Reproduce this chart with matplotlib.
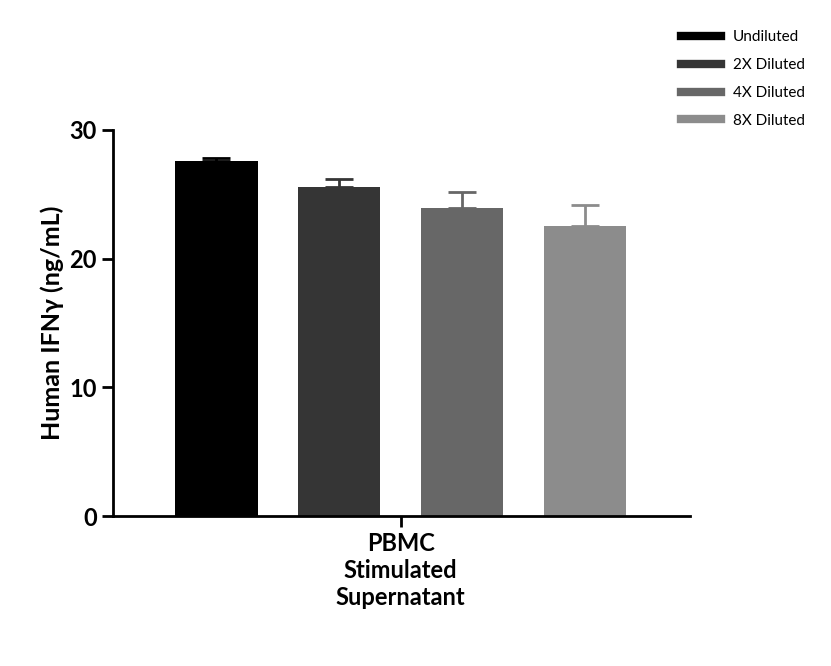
import numpy as np
import matplotlib; matplotlib.use('Agg')
import matplotlib.pyplot as plt
from matplotlib.lines import Line2D

labels = ['Undiluted', '2X Diluted', '4X Diluted', '8X Diluted']
values = [27.6, 25.6, 23.9, 22.5]
errors = [0.2, 0.6, 1.3, 1.7]
colors = ['#000000', '#353535', '#676767', '#8c8c8c']

plt.rcParams['font.family'] = ['Lato', 'DejaVu Sans']
fig = plt.figure(figsize=(8.31, 6.66), dpi=100)
ax = fig.add_axes([0.136, 0.225, 0.694, 0.58])

x = np.arange(len(values))
for i in x:
    ax.bar(i, values[i], width=0.67, color=colors[i], zorder=2)
    ax.errorbar(i, values[i], yerr=[[0], [errors[i]]], fmt='none', ecolor=colors[i],
                elinewidth=2, capsize=10, capthick=2, zorder=1)

ax.set_xlim(-0.84, 3.85)
ax.set_ylim(0, 30)
ax.set_yticks([0, 10, 20, 30])
ax.set_xticks([1.5])
ax.set_xticklabels(['PBMC\nStimulated\nSupernatant'], fontsize=17, fontweight='bold')
ax.tick_params(axis='y', labelsize=17, width=2, length=8)
ax.tick_params(axis='x', width=2, length=8)
for lab in ax.get_yticklabels():
    lab.set_fontweight('bold')
ax.set_ylabel('Human IFNγ (ng/mL)', fontsize=18, fontweight='bold')
for s in ['top', 'right']:
    ax.spines[s].set_visible(False)
for s in ['left', 'bottom']:
    ax.spines[s].set_linewidth(2)

handles = [Line2D([0], [0], color=c, lw=6) for c in colors]
fig.legend(handles, labels, loc='upper right', bbox_to_anchor=(0.985, 0.975),
           frameon=False, fontsize=11, handlelength=2.6, labelspacing=0.9)

plt.savefig('out.png', dpi=100)
